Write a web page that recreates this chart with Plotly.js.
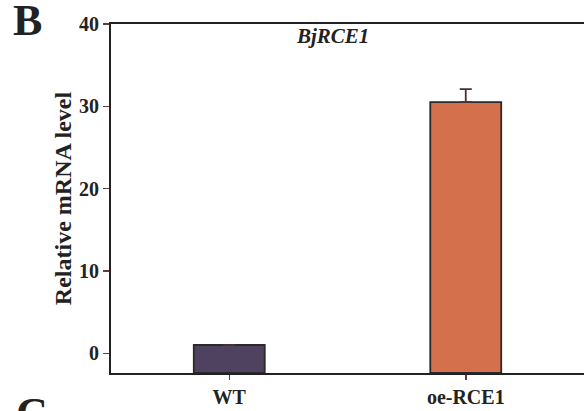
<!DOCTYPE html>
<html><head><meta charset="utf-8">
<script src="https://cdn.plot.ly/plotly-3.0.1.min.js"></script>
<style>html,body{margin:0;padding:0;background:#fff;overflow:hidden}</style>
</head><body><div id="chart" style="width:584px;height:411px"></div>
<script>
const categories = ['WT', 'oe-RCE1'];
const values = [1.0, 30.5];
const errors = [0, 1.6];
const colors = ['#4f4260', '#d4704b'];
const yTicks = [0, 10, 20, 30, 40];
const yMin = -2.4, yMax = 40;

const font = {family: 'Liberation Serif, Times New Roman, serif', color: '#222', weight: 'bold'};

Plotly.newPlot('chart', [{
  type: 'bar',
  x: [0, 1],
  y: values.map(v => v - yMin),
  base: yMin,
  width: 0.3,
  marker: {color: colors, line: {color: '#2a2a2a', width: 1.8}},
  error_y: {type: 'data', array: errors, arrayminus: [0, 0], symmetric: false, color: '#4a2f2f', thickness: 1.8, width: 6, visible: true},
  hoverinfo: 'none'
}], {
  width: 584, height: 411,
  margin: {l: 111, r: 0, t: 24, b: 38},
  paper_bgcolor: '#fff', plot_bgcolor: '#fff',
  showlegend: false,
  xaxis: {
    range: [-0.5, 1.5], tickvals: [0, 1], ticktext: categories,
    showline: true, mirror: true, linecolor: '#222', linewidth: 2,
    ticks: 'outside', ticklen: 5, tickwidth: 1.5, tickcolor: '#6a3a3a',
    showgrid: false, zeroline: false,
    tickfont: Object.assign({}, font, {size: 20})
  },
  yaxis: {
    range: [yMin, yMax], tickvals: yTicks,
    showline: true, mirror: false, linecolor: '#222', linewidth: 2,
    ticks: 'outside', ticklen: 6, tickwidth: 1.5, tickcolor: '#6a3a3a',
    showgrid: false, zeroline: false,
    tickfont: Object.assign({}, font, {size: 20}),
    title: {text: 'Relative mRNA level', font: Object.assign({}, font, {size: 24}), standoff: 1}
  },
  annotations: [
    {xref: 'x', yref: 'y', x: 0.435, y: 38.6, text: '<i>BjRCE1</i>', showarrow: false,
     font: Object.assign({}, font, {size: 21})},
    {xref: 'paper', yref: 'paper', xanchor: 'left', yanchor: 'top', x: -0.211, y: 1.086, text: 'B', showarrow: false,
     font: Object.assign({}, font, {size: 44})},
    {xref: 'paper', yref: 'paper', xanchor: 'left', yanchor: 'top', x: -0.205, y: -0.04, text: 'C', showarrow: false,
     font: Object.assign({}, font, {size: 44})}
  ]
}, {staticPlot: true});
</script></body></html>
